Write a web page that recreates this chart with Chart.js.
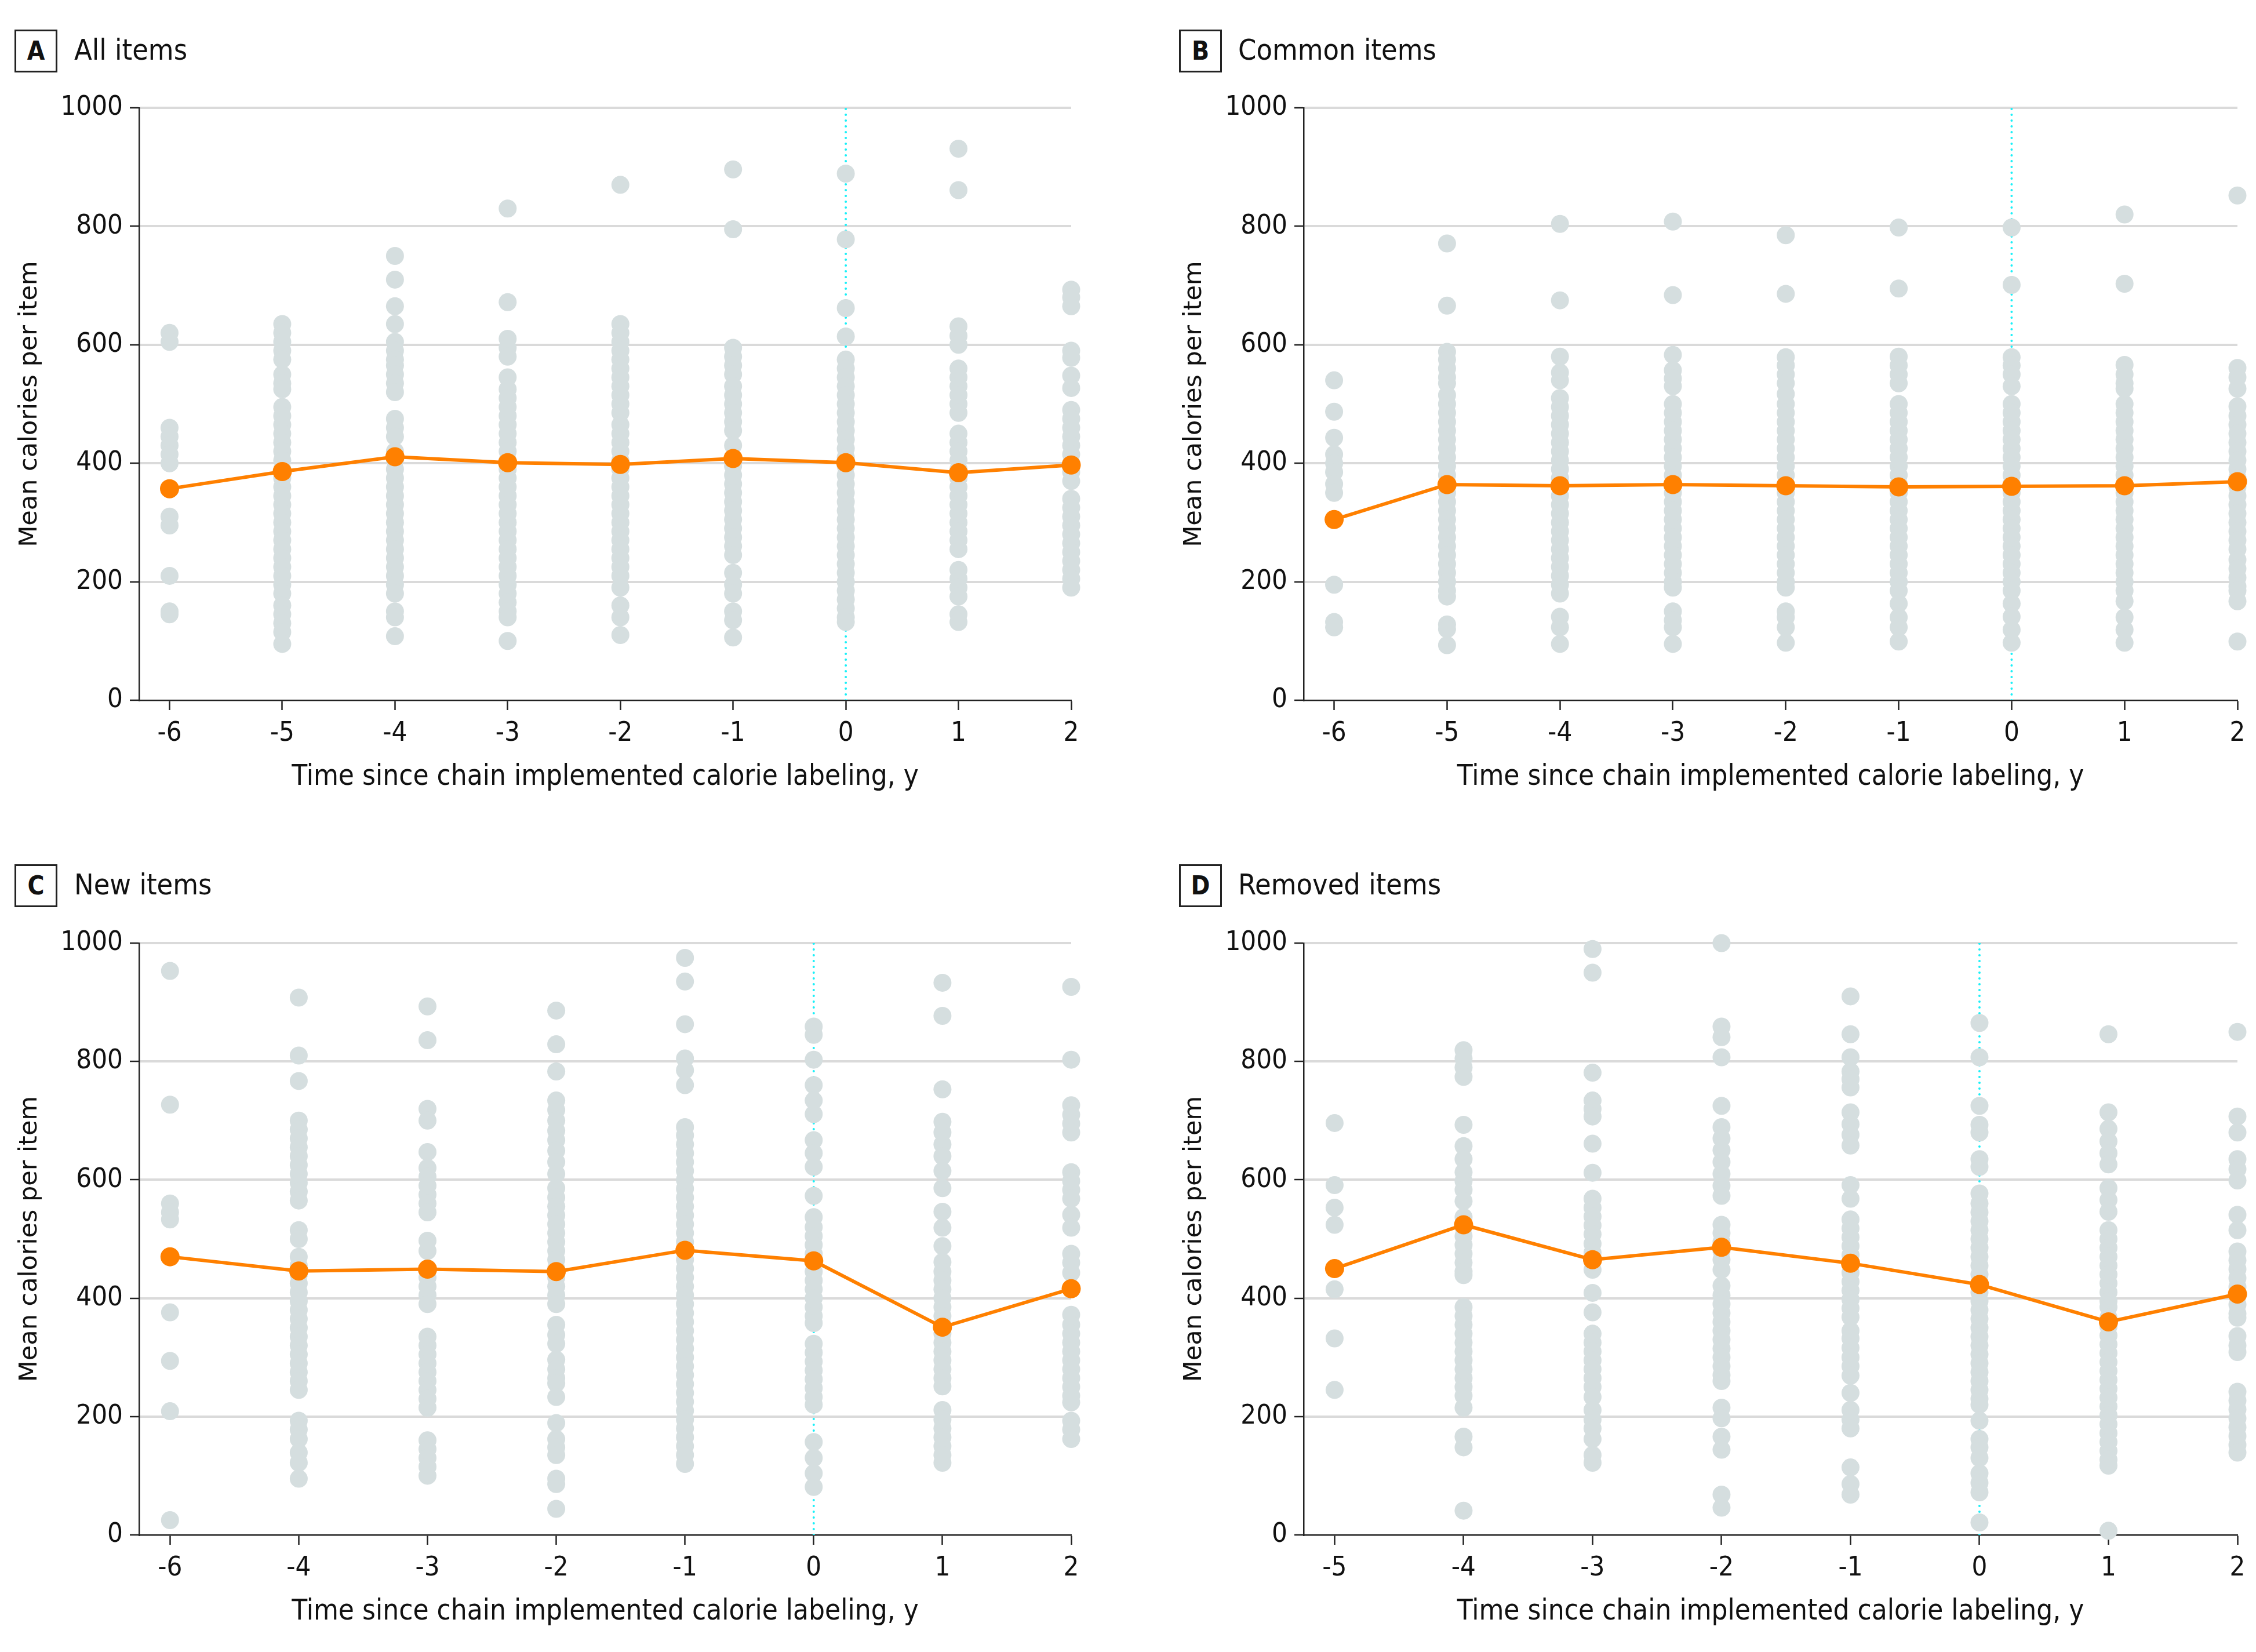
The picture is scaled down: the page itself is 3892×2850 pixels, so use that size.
<!DOCTYPE html>
<html lang="en">
<head>
<meta charset="UTF-8">
<title>Mean calories per item</title>
<script src="https://cdn.jsdelivr.net/npm/chart.js"></script>
<style>
    body {
        margin: 0;
        width: 3892px;
        height: 2850px;
        background: #fff;
        position: relative;
        overflow: hidden;
        font-family: 'DejaVu Sans Condensed', 'Liberation Sans', sans-serif;
        color: #111;
    }
    .tag {
        position: absolute;
        width: 68px;
        height: 68px;
        border: 3px solid #222;
        font-weight: bold;
        font-size: 44px;
        line-height: 68px;
        text-align: center;
    }
    .name {
        position: absolute;
        font-size: 50px;
        line-height: 1;
    }
    canvas {
        position: absolute;
    }
</style>
</head>
<body>
    <div class="tag" style="left:25px; top:51px;">A</div>
    <div class="name" style="left:128px; top:61px;">All items</div>
    <div class="tag" style="left:2034px; top:51px;">B</div>
    <div class="name" style="left:2136px; top:61px;">Common items</div>
    <div class="tag" style="left:25px; top:1491px;">C</div>
    <div class="name" style="left:128px; top:1501px;">New items</div>
    <div class="tag" style="left:2034px; top:1491px;">D</div>
    <div class="name" style="left:2136px; top:1501px;">Removed items</div>

    <canvas id="chartA" width="1900" height="1240" style="left:0; top:140px;"></canvas>
    <canvas id="chartB" width="1883" height="1240" style="left:2009px; top:140px;"></canvas>
    <canvas id="chartC" width="1900" height="1240" style="left:0; top:1580px;"></canvas>
    <canvas id="chartD" width="1883" height="1240" style="left:2009px; top:1580px;"></canvas>

<script>
// A: all items
const yearsA = [-6, -5, -4, -3, -2, -1, 0, 1, 2];
const meansA = [357, 386, 411, 401, 398, 408, 401, 384, 397];
const itemsA = [
    [620, 605, 460, 445, 430, 415, 400, 310, 295, 210, 150, 145],
    [635, 620, 605, 590, 575, 550, 535, 525, 495, 480, 465, 450, 435, 420, 405, 390, 375, 360, 345, 330, 315, 300, 285, 270, 255, 240, 225, 210, 195, 180, 160, 145, 130, 115, 95],
    [750, 710, 665, 635, 605, 590, 575, 565, 550, 535, 520, 475, 460, 445, 420, 405, 390, 375, 360, 345, 330, 315, 300, 285, 270, 255, 240, 225, 210, 195, 180, 150, 140, 108],
    [830, 672, 610, 595, 580, 545, 525, 510, 495, 480, 465, 450, 435, 420, 405, 390, 375, 360, 345, 330, 315, 300, 285, 270, 255, 240, 225, 210, 195, 180, 165, 150, 140, 100],
    [870, 635, 620, 605, 590, 575, 560, 545, 530, 515, 500, 485, 465, 450, 435, 420, 405, 390, 375, 360, 345, 330, 315, 300, 285, 270, 255, 240, 225, 210, 190, 160, 140, 110],
    [896, 795, 595, 580, 565, 550, 530, 515, 500, 485, 470, 455, 430, 410, 395, 380, 365, 350, 335, 320, 305, 290, 275, 260, 245, 215, 195, 180, 150, 135, 106],
    [889, 778, 662, 614, 575, 560, 545, 530, 515, 500, 485, 470, 455, 440, 425, 410, 395, 380, 365, 350, 335, 320, 305, 290, 275, 260, 245, 230, 215, 200, 185, 170, 155, 140, 132],
    [931, 861, 631, 615, 600, 560, 545, 530, 515, 500, 485, 450, 435, 420, 405, 390, 375, 360, 345, 330, 315, 300, 285, 270, 255, 220, 205, 190, 175, 145, 132],
    [693, 680, 665, 590, 578, 548, 527, 490, 475, 460, 445, 430, 415, 400, 385, 370, 340, 325, 310, 295, 280, 265, 250, 235, 220, 205, 190]
];

// B: common items
const yearsB = [-6, -5, -4, -3, -2, -1, 0, 1, 2];
const meansB = [305, 364, 362, 364, 362, 360, 361, 362, 369];
const itemsB = [
    [540, 487, 443, 415, 400, 385, 365, 350, 195, 132, 123],
    [771, 666, 588, 575, 560, 545, 535, 515, 500, 485, 470, 455, 440, 425, 410, 395, 380, 365, 350, 335, 320, 305, 290, 275, 260, 245, 230, 215, 200, 185, 175, 128, 120, 93],
    [804, 675, 580, 553, 540, 510, 495, 480, 465, 450, 435, 420, 405, 390, 375, 360, 345, 330, 315, 300, 285, 270, 255, 240, 225, 210, 195, 180, 141, 123, 95],
    [808, 684, 583, 557, 543, 530, 500, 485, 470, 455, 440, 425, 410, 395, 380, 365, 350, 335, 320, 305, 290, 275, 260, 245, 230, 215, 200, 190, 150, 135, 123, 95],
    [785, 686, 579, 565, 550, 535, 517, 500, 485, 470, 455, 440, 425, 410, 395, 380, 365, 350, 335, 320, 305, 290, 275, 260, 245, 230, 215, 200, 190, 150, 140, 123, 97],
    [798, 695, 580, 565, 550, 535, 500, 485, 470, 455, 440, 425, 410, 395, 380, 365, 350, 335, 320, 305, 290, 275, 260, 245, 230, 215, 200, 185, 163, 140, 123, 99],
    [798, 701, 579, 565, 550, 530, 500, 485, 470, 455, 440, 425, 410, 395, 380, 365, 350, 335, 320, 305, 290, 275, 260, 245, 230, 215, 200, 185, 163, 141, 119, 97],
    [820, 703, 566, 550, 535, 526, 500, 485, 470, 455, 440, 425, 410, 395, 380, 365, 350, 335, 320, 305, 290, 275, 260, 245, 230, 215, 200, 185, 167, 140, 119, 97],
    [852, 561, 545, 526, 496, 480, 465, 450, 435, 420, 405, 390, 375, 360, 345, 330, 315, 300, 285, 270, 255, 237, 222, 207, 192, 185, 167, 99]
];

// C: new items
const yearsC = [-6, -4, -3, -2, -1, 0, 1, 2];
const meansC = [470, 446, 449, 445, 481, 463, 351, 416];
const itemsC = [
    [953, 727, 560, 545, 533, 376, 294, 209, 25],
    [908, 810, 767, 700, 685, 670, 655, 640, 625, 610, 595, 580, 565, 515, 500, 470, 455, 440, 425, 410, 395, 380, 365, 350, 335, 320, 305, 290, 275, 260, 245, 193, 178, 162, 139, 122, 95],
    [893, 836, 720, 700, 647, 620, 605, 590, 575, 560, 545, 497, 480, 450, 435, 420, 405, 390, 335, 320, 305, 290, 275, 260, 245, 230, 215, 160, 145, 130, 115, 100],
    [886, 829, 783, 734, 718, 700, 683, 667, 649, 630, 610, 586, 570, 555, 540, 525, 510, 495, 480, 465, 450, 435, 420, 405, 390, 355, 338, 323, 296, 280, 265, 256, 233, 189, 162, 148, 135, 95, 86, 44],
    [975, 935, 863, 805, 785, 760, 689, 675, 660, 645, 630, 615, 600, 585, 570, 555, 540, 525, 510, 495, 465, 450, 435, 420, 405, 390, 375, 360, 345, 330, 315, 300, 285, 270, 255, 240, 225, 210, 195, 180, 165, 150, 135, 120],
    [859, 845, 803, 760, 734, 711, 667, 645, 622, 573, 537, 520, 505, 490, 475, 460, 445, 430, 415, 400, 385, 370, 358, 323, 308, 293, 278, 263, 248, 233, 220, 157, 130, 104, 81],
    [933, 877, 753, 698, 680, 660, 640, 615, 586, 546, 519, 488, 461, 445, 430, 415, 400, 385, 370, 355, 340, 325, 310, 295, 280, 265, 251, 211, 195, 180, 165, 150, 135, 122],
    [926, 803, 726, 710, 695, 680, 613, 598, 583, 568, 541, 519, 475, 460, 443, 372, 355, 340, 325, 310, 295, 280, 265, 250, 235, 224, 193, 178, 162]
];

// D: removed items
const yearsD = [-5, -4, -3, -2, -1, 0, 1, 2];
const meansD = [450, 524, 465, 486, 459, 423, 360, 407];
const itemsD = [
    [696, 591, 553, 524, 415, 332, 245],
    [819, 805, 790, 774, 693, 657, 635, 613, 598, 583, 564, 537, 520, 505, 490, 475, 460, 445, 439, 385, 370, 355, 340, 325, 310, 295, 280, 265, 250, 235, 215, 166, 148, 41],
    [990, 950, 781, 734, 720, 707, 661, 612, 568, 553, 538, 523, 508, 492, 477, 462, 448, 409, 376, 340, 325, 310, 295, 280, 265, 250, 233, 211, 195, 180, 162, 135, 122],
    [1000, 859, 841, 807, 725, 689, 670, 650, 630, 610, 590, 573, 524, 510, 495, 480, 465, 448, 421, 405, 390, 375, 360, 345, 330, 315, 300, 285, 270, 260, 215, 197, 166, 144, 68, 46],
    [910, 846, 807, 783, 770, 756, 714, 694, 676, 658, 591, 568, 533, 518, 503, 488, 473, 458, 443, 428, 413, 398, 383, 368, 345, 332, 316, 300, 285, 269, 240, 211, 195, 180, 114, 86, 68],
    [865, 807, 725, 693, 680, 635, 622, 577, 560, 545, 530, 515, 500, 485, 470, 455, 440, 425, 410, 395, 380, 365, 350, 335, 320, 305, 290, 275, 260, 245, 230, 220, 193, 162, 148, 130, 104, 88, 72, 21],
    [846, 714, 686, 665, 645, 626, 586, 566, 546, 515, 500, 485, 470, 455, 440, 425, 410, 395, 385, 367, 352, 337, 322, 307, 292, 277, 262, 247, 232, 217, 202, 187, 172, 157, 142, 127, 117, 7],
    [850, 707, 680, 635, 618, 599, 541, 515, 479, 464, 449, 434, 419, 404, 389, 374, 367, 336, 320, 309, 242, 227, 212, 197, 182, 167, 152, 139]
];

const xTitle = 'Time since chain implemented calorie labeling, y';
const yTitle = 'Mean calories per item';
const textFont = "'DejaVu Sans Condensed', 'Liberation Sans', sans-serif";

function drawPanel(id, years, means, items, xMin, padTop, padRight) {
    const zeroIdx = years.indexOf(0);
    const scatterPts = [];
    items.forEach((col, i) => col.forEach(v => scatterPts.push({ x: i, y: v })));

    new Chart(document.getElementById(id), {
        type: 'scatter',
        data: {
            datasets: [
                {
                    // mean line
                    data: means.map((m, i) => ({ x: i, y: m })),
                    showLine: true,
                    borderColor: '#FF8000',
                    backgroundColor: '#FF8000',
                    borderWidth: 6,
                    pointRadius: 16.5,
                    pointBorderWidth: 0,
                    clip: false,
                    order: 0
                },
                {
                    // individual items
                    data: scatterPts,
                    backgroundColor: '#D5DEDF',
                    pointRadius: 15.5,
                    pointBorderWidth: 0,
                    clip: false,
                    order: 1
                },
                {
                    // labeling year marker
                    data: [{ x: zeroIdx, y: 0 }, { x: zeroIdx, y: 1000 }],
                    showLine: true,
                    borderColor: '#1AF0F8',
                    borderWidth: 4,
                    borderDash: [0, 10],
                    borderCapStyle: 'round',
                    pointRadius: 0,
                    order: 2
                }
            ]
        },
        options: {
            responsive: false,
            animation: false,
            layout: { padding: { top: padTop, right: padRight, left: 0, bottom: 0 } },
            plugins: { legend: { display: false }, tooltip: { enabled: false } },
            scales: {
                x: {
                    type: 'linear',
                    min: xMin,
                    max: years.length - 1,
                    afterBuildTicks: s => { s.ticks = years.map((_, i) => ({ value: i })); },
                    afterFit: s => { s.height = 172; },
                    ticks: {
                        callback: v => String(years[v]),
                        padding: 13,
                        maxRotation: 0,
                        autoSkip: false,
                        color: '#111',
                        font: { family: textFont, size: 47 }
                    },
                    grid: { drawOnChartArea: false, drawTicks: true, tickLength: 17, tickColor: '#222', tickWidth: 2.5 },
                    border: { color: '#222', width: 2.5 },
                    title: {
                        display: true,
                        text: xTitle,
                        color: '#111',
                        font: { family: textFont, size: 49 },
                        padding: { top: 0, bottom: 9 }
                    }
                },
                y: {
                    min: 0,
                    max: 1000,
                    afterFit: s => { s.width = 240; },
                    ticks: {
                        stepSize: 200,
                        callback: v => String(v),
                        padding: 12,
                        color: '#111',
                        font: { family: textFont, size: 47 }
                    },
                    grid: {
                        color: c => c.tick && c.tick.value === 0 ? 'rgba(0,0,0,0)' : '#DADADA',
                        lineWidth: 4,
                        tickColor: '#222',
                        tickLength: 16,
                        tickWidth: 2.5
                    },
                    border: { color: '#222', width: 2.5 },
                    title: {
                        display: true,
                        text: yTitle,
                        color: '#111',
                        font: { family: 'DejaVu Sans', size: 43 },
                        padding: { top: 26, bottom: 0 }
                    }
                }
            }
        }
    });
}

drawPanel('chartA', yearsA, meansA, itemsA, -0.27, 46, 52);
drawPanel('chartB', yearsB, meansB, itemsB, -0.27, 46, 32);
drawPanel('chartC', yearsC, meansC, itemsC, -0.24, 47, 52);
drawPanel('chartD', yearsD, meansD, itemsD, -0.24, 47, 32);
</script>
</body>
</html>
